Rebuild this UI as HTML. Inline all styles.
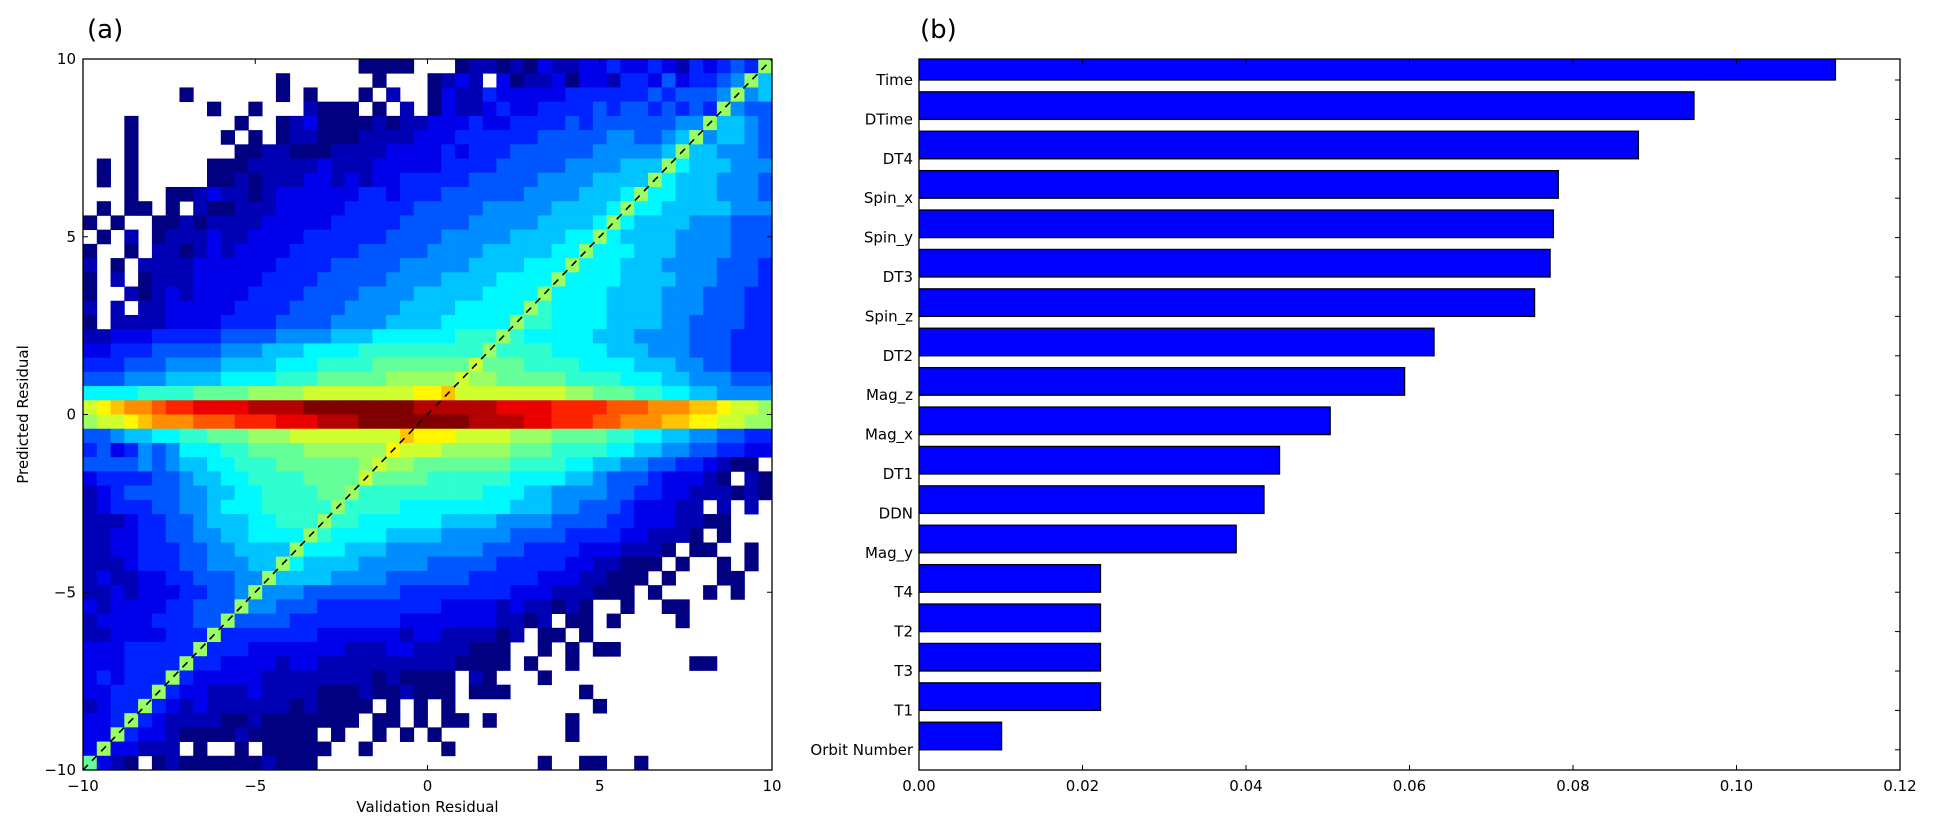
<!DOCTYPE html>
<html><head><meta charset="utf-8"><style>
html,body{margin:0;padding:0;background:#fff;}
svg{display:block;font-family:"DejaVu Sans","Liberation Sans",sans-serif;}
</style></head><body>
<svg id="fig" width="1933" height="832" viewBox="0 0 1933 832" xmlns="http://www.w3.org/2000/svg">
<text x="87" y="38" font-size="26">(a)</text>
<text x="920" y="38" font-size="26">(b)</text>
<g id="heat"></g>
<g id="bars"></g>
</svg>
<script>
// ---- heatmap data (50x50 bins, levels '0'..'J', '.' = empty), row 0 = top (y 9.6..10)
const heatLevels = "0123456789ABCDEFGHIJ";
const heatRows = [
".......... .......... 0000...011 0102112232 232132343A",
".......... ....0..... .0...0121. 2011202213 32423345A6",
".......0.. ....0.0... 0.1..02113 2222233333 3434445A56",
".........0 ..0...1000 .0.1.02112 3223333434 434343A544",
"...0...... .0..012000 0101122232 2333343444 44455A6654",
"...0...... 0.0.011000 1111222333 3334444455 4456A56654",
"...0...... .001100011 1122223233 3444444555 556A665554",
".0.0.....0 0011111211 1222223333 4444455556 66A7666555",
".0.0.....0 0101112212 1223333344 4445555666 6A76665554",
"...0..0012 1101222222 3323334444 4455556667 A776665554",
".0.00.0.10 0111222223 3333444445 555566667A 7766666555",
"0.0..00101 1112222233 3334444455 55566667A7 6666555444",
".0.1.01112 1122223333 3344445555 5666677A76 6665555444",
"0..0.11012 1222233333 4444455556 666677A777 6665555444",
"1.0.111122 2222333344 4445555566 66777A7776 6655554443",
"0.1.011122 2223333444 4455556666 7777A77776 6665554443",
"0..1012122 2233334444 5555666667 777A777766 6655544433",
"1.1.112222 2333344445 5556666777 77A8777766 6655544433",
"0.11112222 3333444455 5566667777 7A88777766 6655444433",
"1122233333 4444555566 6777777888 A877777666 5555444333",
"2233344444 5556667777 888888888A 8888777766 6555444333",
"3334445555 6666777888 89999999B9 9988887777 6665544333",
"4445556666 7777888999 99AAAAABAA 9999988887 7766555444",
"7777888899 99AAAABBBB BBBBCCDBBB BBBBBAA999 8877665555",
"BCDEEFGGHH HHIIIIJJJJ JJJJIIIIII HHHHGGGGFF FEEEDDCBBA",
"ABBCDEEEFF FGGGHHHIII JJJJJJJJII IIHHGGGFFE EEDDCCBBAA",
"4456677889 99AAABBBBB BBBDCCCBBB BAAA999988 7766554433",
"3423545777 889999AAAA AACBBBAAAA A999888877 6655443322",
"4444545667 7888999999 ABAA999999 9888877665 544332100.",
"2333344566 7788889999 B999988888 8777766544 4322210.10",
"1234444556 677888899A 8888888887 7766555544 3322111010",
"1233344556 77788888A8 8887777777 7666554443 22211.1.1.",
"1112334456 6677888A88 7777776666 5555444433 2221100...",
"1122334455 667777A877 7766665555 5444433332 21110.0...",
"1122333445 56666A7776 6655555554 4433332221 110.00..0.",
"1112333445 5566A76666 5555544444 3333322110 00.0..0.0.",
"1211223344 455A666655 5544444433 3332221100 0.0...00..",
"1121222334 45A5554444 4443333333 3222111000 .0...0.0..",
"2122223344 4A55444333 3333332222 1211010..0 ..00......",
"1222233344 A444433333 3332222222 1101.00.0. ...0......",
"112222333A 3333333222 2221221111 01.00.0... ..........",
"22233333A3 3322222221 1122111100 0..0.0.00. ..........",
"2223333A33 2222122111 1111111000 0.0..0.... ....00....",
"232333A322 2221111111 1010000.10 ...0...... ..........",
"22333A3221 1121111000 1001000.00 0.....0... ..........",
"1233A32121 1111101000 0.0.0.0... .......0.. ..........",
"223A321111 0010000000 .00.0.00.0 .....0.... ..........",
"22A3221000 0100000.0. .0.0.0.... .....0.... ..........",
"2A22111.0. .0.00000.. 0.....0... .......... ..........",
"9210.01000 0001000... .......... ...0..00.. 0........."
];
// ---- bar chart data
const barNames = ["Orbit Number","T1","T3","T2","T4","Mag_y","DDN","DT1","Mag_x","Mag_z","DT2","Spin_z","DT3","Spin_y","Spin_x","DT4","DTime","Time"];
const barValues = [0.0101,0.0222,0.0222,0.0222,0.0222,0.0388,0.0422,0.0441,0.0503,0.0594,0.0630,0.0753,0.0772,0.0776,0.0782,0.0880,0.0948,0.1121];
const xTicksA = [-10,-5,0,5,10];
const yTicksA = [-10,-5,0,5,10];
const xTicksB = [0,0.02,0.04,0.06,0.08,0.10,0.12];
const xTickLabelsB = ["0.00","0.02","0.04","0.06","0.08","0.10","0.12"];

const NS = "http://www.w3.org/2000/svg";
function mk(tag, attrs, parent){const e=document.createElementNS(NS,tag);for(const k in attrs)e.setAttribute(k,attrs[k]);parent.appendChild(e);return e;}
function jet(v){
  const c=x=>Math.max(0,Math.min(1,x));
  const r=c(1.5-Math.abs(4*v-3)), g=c(1.5-Math.abs(4*v-2)), b=c(1.5-Math.abs(4*v-1));
  return "rgb("+Math.round(r*255)+","+Math.round(g*255)+","+Math.round(b*255)+")";
}
// ---- panel (a)
const A={x0:83,x1:772,y0:59,y1:770};
const sxA=v=>A.x0+(v+10)/20*(A.x1-A.x0);
const syA=v=>A.y1-(v+10)/20*(A.y1-A.y0);
const heat=document.getElementById('heat');
const nb=50, bw=20/nb;
for(let r=0;r<heatRows.length;r++){
  const row=heatRows[r].replace(/ /g,"").padEnd(nb,".").slice(0,nb);
  for(let c=0;c<nb;c++){
    const ch=row[c]; if(ch==='.')continue;
    const lv=heatLevels.indexOf(ch); if(lv<0)continue;
    const xa=-10+c*bw, yTop=10-r*bw;
    const x=sxA(xa), y=syA(yTop);
    const cell=mk('rect',{x:x.toFixed(2),y:y.toFixed(2),width:(sxA(xa+bw)-x+0.4).toFixed(2),height:(syA(yTop-bw)-y+0.4).toFixed(2),fill:jet(lv/19)},heat);
    
    
  }
}
const diag=mk('line',{x1:sxA(-10),y1:syA(-10),x2:sxA(10),y2:syA(10),stroke:'#000','stroke-width':1.6,'stroke-dasharray':'7,6'},heat);


const frA=mk('rect',{x:A.x0,y:A.y0,width:A.x1-A.x0,height:A.y1-A.y0,fill:'none',stroke:'#000','stroke-width':1.3},heat);


xTicksA.forEach(t=>{
  const x=sxA(t);
  mk('line',{x1:x,y1:A.y1,x2:x,y2:A.y1-5,stroke:'#000'},heat);
  mk('line',{x1:x,y1:A.y0,x2:x,y2:A.y0+5,stroke:'#000'},heat);
  const tl=mk('text',{x:x,y:A.y1+21,'font-size':15,'text-anchor':'middle'},heat);
  tl.textContent=(t<0?"\u2212"+(-t):String(t));
  
  
});
yTicksA.forEach(t=>{
  const y=syA(t);
  mk('line',{x1:A.x0,y1:y,x2:A.x0+5,y2:y,stroke:'#000'},heat);
  mk('line',{x1:A.x1,y1:y,x2:A.x1-5,y2:y,stroke:'#000'},heat);
  const tl=mk('text',{x:A.x0-7,y:y+5,'font-size':15,'text-anchor':'end'},heat);
  tl.textContent=(t<0?"\u2212"+(-t):String(t));
  
  
});
const xl=mk('text',{x:(A.x0+A.x1)/2,y:812,'font-size':15,'text-anchor':'middle'},heat);
xl.textContent="Validation Residual";


const yl=mk('text',{x:0,y:0,'font-size':15,'text-anchor':'middle',transform:'translate(28,'+((A.y0+A.y1)/2)+') rotate(-90)'},heat);
yl.textContent="Predicted Residual";


// ---- panel (b)
const B={x0:919,x1:1900,y0:59,y1:770};
const sxB=v=>B.x0+v/0.12*(B.x1-B.x0);
const unit=39.4, base=80+17*unit;
const syB=i=>base-i*unit;
const bars=document.getElementById('bars');
const clip=mk('clipPath',{id:'cb'},bars);
mk('rect',{x:B.x0,y:B.y0,width:B.x1-B.x0,height:B.y1-B.y0},clip);
const bg=mk('g',{'clip-path':'url(#cb)'},bars);
barValues.forEach((v,i)=>{
  const yb=syB(i);
  const b=mk('rect',{x:sxB(0),y:(yb-0.7*unit).toFixed(2),width:(sxB(v)-sxB(0)).toFixed(2),height:(0.7*unit).toFixed(2),fill:'#0000ff',stroke:'#000','stroke-width':1.3},bg);
  
  
  mk('line',{x1:B.x0,y1:yb,x2:B.x0+5,y2:yb,stroke:'#000'},bars);
  mk('line',{x1:B.x1,y1:yb,x2:B.x1-5,y2:yb,stroke:'#000'},bars);
  const tl=mk('text',{x:B.x0-6,y:yb+5,'font-size':15,'text-anchor':'end'},bars);
  tl.textContent=barNames[i];
  
  
});
const frB=mk('rect',{x:B.x0,y:B.y0,width:B.x1-B.x0,height:B.y1-B.y0,fill:'none',stroke:'#000','stroke-width':1.3},bars);


xTicksB.forEach((t,i)=>{
  const x=sxB(t);
  mk('line',{x1:x,y1:B.y1,x2:x,y2:B.y1-5,stroke:'#000'},bars);
  mk('line',{x1:x,y1:B.y0,x2:x,y2:B.y0+5,stroke:'#000'},bars);
  const tl=mk('text',{x:x,y:B.y1+21,'font-size':15,'text-anchor':'middle'},bars);
  tl.textContent=xTickLabelsB[i];
  
  
});
</script>
</body></html>
